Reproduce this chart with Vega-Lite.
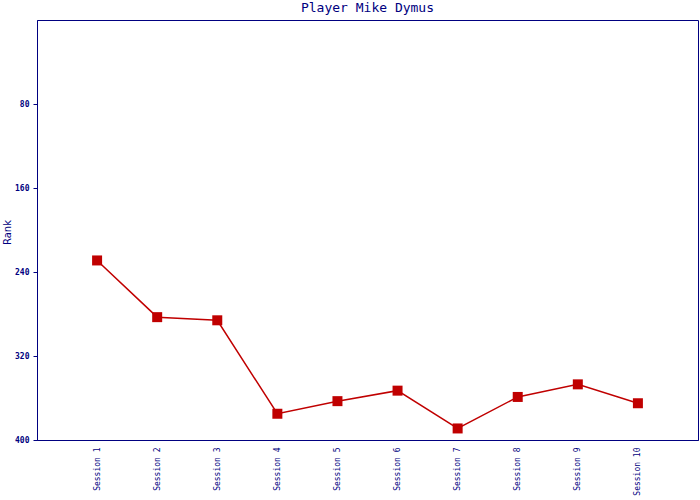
{
  "$schema": "https://vega.github.io/schema/vega-lite/v6.json",
  "width": 661,
  "height": 420,
  "autosize": {"type": "none"},
  "padding": {"left": 37, "top": 20, "right": 2, "bottom": 60},
  "background": "white",
  "title": {"text": "Player Mike Dymus", "font": "DejaVu Sans Mono", "fontSize": 13, "fontWeight": "normal", "color": "#000080", "offset": 5, "anchor": "middle"},
  "config": {"view": {"stroke": "#000080", "strokeWidth": 1}},
  "data": {"values": [
    {"session": "Session 1", "rank": 229},
    {"session": "Session 2", "rank": 283},
    {"session": "Session 3", "rank": 286},
    {"session": "Session 4", "rank": 375},
    {"session": "Session 5", "rank": 363},
    {"session": "Session 6", "rank": 353},
    {"session": "Session 7", "rank": 389},
    {"session": "Session 8", "rank": 359},
    {"session": "Session 9", "rank": 347},
    {"session": "Session 10", "rank": 365}
  ]},
  "encoding": {
    "x": {"field": "session", "type": "ordinal", "sort": null,
      "scale": {"type": "point", "padding": 1},
      "axis": {"title": null, "labelAngle": -90, "labelFont": "DejaVu Sans Mono", "labelFontSize": 8, "labelColor": "#000080", "ticks": false, "labelPadding": 7, "domainColor": "#000080", "labelAlign": "right", "labelBaseline": "middle"}},
    "y": {"field": "rank", "type": "quantitative",
      "scale": {"domain": [0, 400], "reverse": true, "nice": false, "zero": false},
      "axis": {"title": "Rank", "values": [80, 160, 240, 320, 400], "grid": false, "titleFont": "DejaVu Sans", "titleFontSize": 10, "titleFontWeight": "normal", "titleColor": "#000080", "titleX": -25, "titleY": 212, "titleAngle": -90, "titleAlign": "center", "titleBaseline": "bottom", "labelFont": "DejaVu Sans Mono", "labelFontSize": 8, "labelFontWeight": "bold", "labelColor": "#000080", "tickColor": "#000080", "tickSize": 4, "labelPadding": 4, "domainColor": "#000080"}}
  },
  "layer": [
    {"mark": {"type": "line", "color": "#c00000", "strokeWidth": 1.5}},
    {"mark": {"type": "square", "color": "#c00000", "opacity": 1, "filled": true, "size": 100}}
  ]
}
